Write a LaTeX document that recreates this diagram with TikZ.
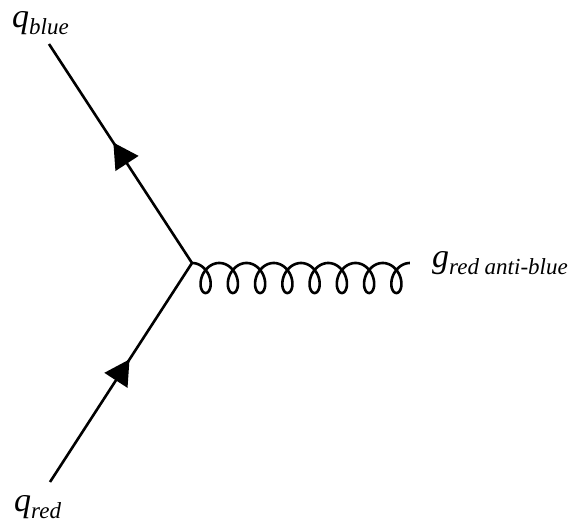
\documentclass[tikz,border=0pt]{standalone}
\usepackage{fontspec}
\setmainfont{Liberation Serif}
\usetikzlibrary{arrows.meta,decorations.markings}
\newcommand{\mylbl}[2]{{\fontsize{34}{34}\selectfont\itshape #1}\raisebox{-7pt}{\fontsize{23}{23}\selectfont\itshape #2}}
\tikzset{
  quark/.style={line width=2.6pt, postaction={decorate}, decoration={markings,
      mark=at position #1 with {\arrow{Triangle[length=25pt,width=27pt]}}}},
  gluonline/.style={line width=2.6pt, line join=round},
  lbl/.style={anchor=base west, inner sep=0pt}
}
\begin{document}
\begin{tikzpicture}[x=1pt,y=-1pt]
\useasboundingbox (0,0) rectangle (576,528);
\coordinate (v) at (192,263);
\coordinate (qb) at (49,44);
\coordinate (qr) at (50,482);
\coordinate (g) at (410,263);
\draw[quark=0.55] (v) -- (qb);
\draw[quark=0.56] (qr) -- (v);
\draw[gluonline, shift={(v)}] plot[domain=0:16*pi, samples=600, variable=\t, smooth]
  ({4.337*\t + 11*sin(\t r)}, {15 - 15*cos(\t r)});
\node[lbl] (lqb) at (12,27) {\mylbl{q}{blue}};
\node[lbl] (lqr) at (14,511) {\mylbl{q}{red}};
\node[lbl] (lg) at (432,267) {\mylbl{g}{red anti-blue}};
\end{tikzpicture}
\end{document}
